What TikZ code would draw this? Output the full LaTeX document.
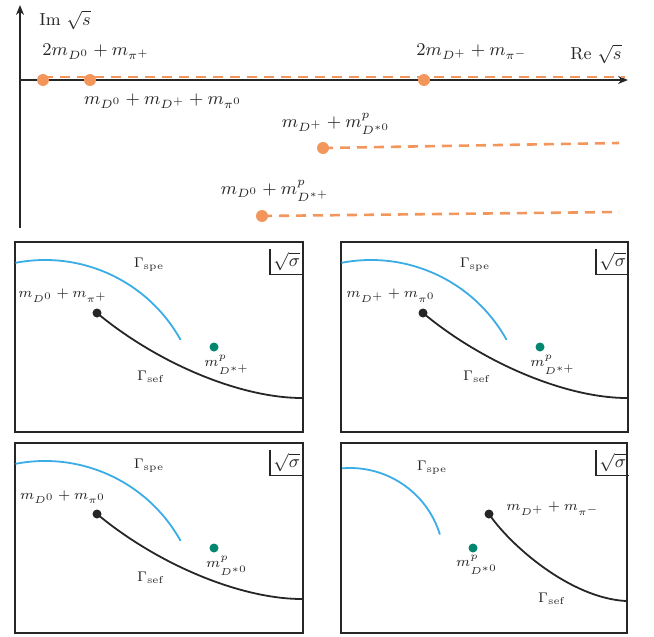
\documentclass[tikz,border=0pt]{standalone}
\usepackage{tikz}
\usetikzlibrary{calc,arrows.meta,positioning}
\definecolor{cutorange}{RGB}{243,150,92}
\definecolor{arcblue}{RGB}{58,172,230}
\definecolor{poleteal}{RGB}{0,135,110}
\definecolor{inkgray}{RGB}{38,38,38}
\tikzstyle{axis} = [line width=1pt, draw=inkgray, -{Stealth[length=5pt,width=4pt]}]
\tikzstyle{cut} = [line width=1.3pt, draw=cutorange, dash pattern=on 5pt off 3.5pt]
\tikzstyle{branch} = [circle, fill=cutorange, inner sep=0pt, minimum size=6pt]
\tikzstyle{thr} = [circle, fill=inkgray, inner sep=0pt, minimum size=4.5pt]
\tikzstyle{pole} = [circle, fill=poleteal, inner sep=0pt, minimum size=4.5pt]
\tikzstyle{frame} = [line width=1pt, draw=inkgray]
\tikzstyle{spe} = [line width=0.9pt, draw=arcblue]
\tikzstyle{sef} = [line width=0.9pt, draw=inkgray]
\tikzstyle{lbl} = [text=inkgray, inner sep=1pt, font=\fontsize{8.7}{10}\selectfont]
\tikzstyle{slbl} = [text=inkgray, inner sep=1pt, font=\fontsize{7}{8}\selectfont]
\tikzstyle{corner} = [text=inkgray, font=\small, inner sep=1.5pt]
\tikzstyle{cornerline} = [line width=0.8pt, draw=inkgray]

\begin{document}
\begin{tikzpicture}[x=0.5pt, y=-0.5pt]
	\useasboundingbox (0,0) rectangle (654,637);

	% complex sqrt(s) plane
	\coordinate (imlow) at (20,228);
	\coordinate (imtop) at (20,5);
	\coordinate (relow) at (20,80);
	\coordinate (retop) at (628,80);
	\draw[axis] (imlow) -- (imtop);
	\draw[axis] (relow) -- (retop);
	\node[lbl] (imlbl) at (65,20) {Im $\sqrt{s}$};
	\node[lbl] (relbl) at (596,54) {Re $\sqrt{s}$};

	\node (bpA) [branch] at (43,80) {};
	\node (bpB) [branch] at (90,80) {};
	\node (bpC) [branch] at (424,80) {};
	\coordinate (cutAend) at (625,77);
	\draw[cut] (bpA.center |- cutAend) -- (cutAend);

	\node (bpD) [branch] at (323,148) {};
	\coordinate (cutDend) at (619,143);
	\draw[cut] (bpD.center) -- (cutDend);
	\node (bpE) [branch] at (262,216) {};
	\coordinate (cutEend) at (619,212);
	\draw[cut] (bpE.center) -- (cutEend);

	\node[lbl] (lblA) at (96,52) {$2m_{D^0}+m_{\pi^+}$};
	\node[lbl] (lblB) at (163,101) {$m_{D^0}+m_{D^+}+m_{\pi^0}$};
	\node[lbl] (lblC) at (472,52) {$2m_{D^+}+m_{\pi^-}$};
	\node[lbl] (lblD) at (336,124) {$m_{D^+}+m^{p}_{D^{*0}}$};
	\node[lbl] (lblE) at (275,191) {$m_{D^0}+m^{p}_{D^{*+}}$};

	% sqrt(sigma) sheets
	\draw[frame] (15,242) rectangle (303,432);
	\draw[spe] (45,415) ++(-101:155) arc[start angle=-101, end angle=-29, radius=155];
	\node (thrA) [thr] at (97,313) {};
	\coordinate (sefAend) at (302,398);
	\draw[sef] (thrA.center) .. controls (157,363) and (240,398) .. (sefAend);
	\node (poleA) [pole] at (214,347) {};
	\node[slbl] (speA) at (149,265) {$\Gamma_{\rm spe}$};
	\node[slbl] (thrAlbl) at (63,296) {$m_{D^0}+m_{\pi^+}$};
	\node[slbl] (poleAlbl) at (227,365) {$m^{p}_{D^{*+}}$};
	\node[slbl] (sefAlbl) at (151,377) {$\Gamma_{\rm sef}$};
	\node[corner, anchor=north west] (sigA) at (270,249) {$\sqrt{\sigma}$};
	\draw[cornerline] (sigA.north west) |- (sigA.south east);

	\begin{scope}[shift={(326,0)}]
	\draw[frame] (15,242) rectangle (302,432);
	\draw[spe] (45,415) ++(-101:155) arc[start angle=-101, end angle=-29, radius=155];
	\node (thrB) [thr] at (97,313) {};
	\coordinate (sefBend) at (301,398);
	\draw[sef] (thrB.center) .. controls (157,363) and (240,398) .. (sefBend);
	\node (poleB) [pole] at (214,347) {};
	\node[slbl] (speB) at (149,265) {$\Gamma_{\rm spe}$};
	\node[slbl] (thrBlbl) at (65,296) {$m_{D^+}+m_{\pi^0}$};
	\node[slbl] (poleBlbl) at (227,365) {$m^{p}_{D^{*+}}$};
	\node[slbl] (sefBlbl) at (151,377) {$\Gamma_{\rm sef}$};
	\node[corner, anchor=north west] (sigB) at (270,249) {$\sqrt{\sigma}$};
	\draw[cornerline] (sigB.north west) |- (sigB.south east);
	\end{scope}

	\begin{scope}[shift={(0,201)}]
	\draw[frame] (15,242) rectangle (303,432);
	\draw[spe] (45,415) ++(-101:155) arc[start angle=-101, end angle=-29, radius=155];
	\node (thrC) [thr] at (97,313) {};
	\coordinate (sefCend) at (302,398);
	\draw[sef] (thrC.center) .. controls (157,363) and (240,398) .. (sefCend);
	\node (poleC) [pole] at (214,347) {};
	\node[slbl] (speC) at (149,265) {$\Gamma_{\rm spe}$};
	\node[slbl] (thrClbl) at (63,296) {$m_{D^0}+m_{\pi^0}$};
	\node[slbl] (poleClbl) at (227,365) {$m^{p}_{D^{*0}}$};
	\node[slbl] (sefClbl) at (151,377) {$\Gamma_{\rm sef}$};
	\node[corner, anchor=north west] (sigC) at (270,249) {$\sqrt{\sigma}$};
	\draw[cornerline] (sigC.north west) |- (sigC.south east);
	\end{scope}

	\draw[frame] (341,443) rectangle (627,633);
	\draw[spe] (350,562) ++(-95:94) arc[start angle=-95, end angle=-17, radius=94];
	\node (thrD) [thr] at (489,514) {};
	\coordinate (sefDend) at (626,601);
	\draw[sef] (thrD.center) .. controls (510,545) and (570,598) .. (sefDend);
	\node (poleD) [pole] at (473,548) {};
	\node[slbl] (speD) at (432,468) {$\Gamma_{\rm spe}$};
	\node[slbl, anchor=west] (thrDlbl) at (504,509) {$m_{D^+}+m_{\pi^-}$};
	\node[slbl] (poleDlbl) at (477,565) {$m^{p}_{D^{*0}}$};
	\node[slbl] (sefDlbl) at (552,599) {$\Gamma_{\rm sef}$};
	\node[corner, anchor=north west] (sigD) at (596,450) {$\sqrt{\sigma}$};
	\draw[cornerline] (sigD.north west) |- (sigD.south east);
\end{tikzpicture}
\end{document}
